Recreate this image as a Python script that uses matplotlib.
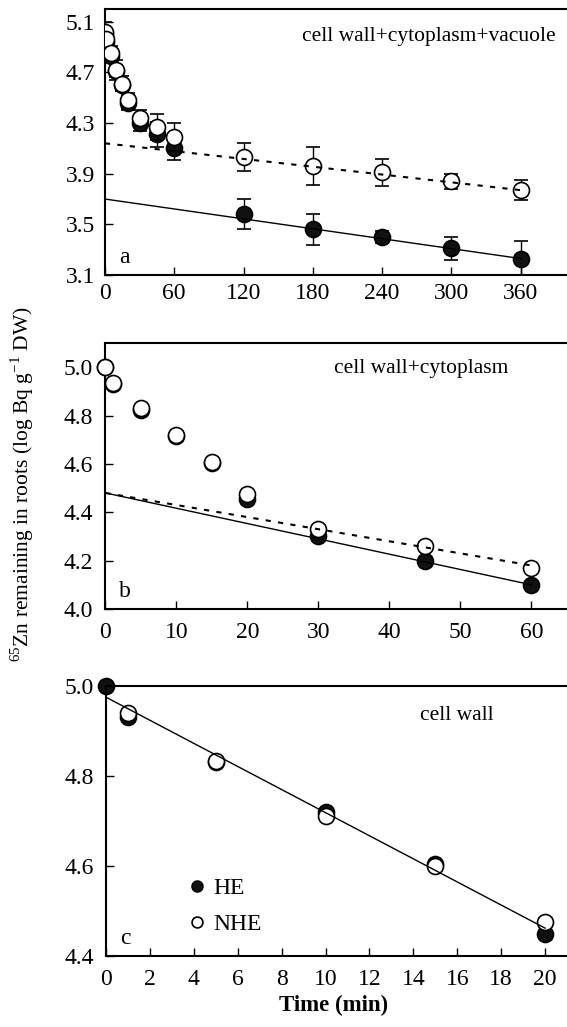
import matplotlib.pyplot as plt
import numpy as np

plt.rcParams['font.family'] = ['Liberation Serif', 'DejaVu Serif']
plt.rcParams['mathtext.fontset'] = 'custom'
plt.rcParams['mathtext.rm'] = 'Liberation Serif'

# Data
# panel a: cell wall + cytoplasm + vacuole
t_a = [0, 1, 5, 10, 15, 20, 30, 45, 60, 120, 180, 240, 300, 360]
he_a = [5.00, 4.94, 4.83, 4.71, 4.60, 4.46, 4.30, 4.21, 4.10, 3.58, 3.46, 3.40, 3.31, 3.23]
nhe_a = [5.02, 4.96, 4.85, 4.72, 4.61, 4.48, 4.34, 4.27, 4.19, 4.03, 3.96, 3.91, 3.84, 3.77]
he_a_err = [0.05, 0.05, 0.05, 0.05, 0.05, 0.06, 0.06, 0.10, 0.09, 0.12, 0.12, 0.05, 0.09, 0.14]
nhe_a_err = [0.08, 0.05, 0.06, 0.08, 0.06, 0.06, 0.06, 0.10, 0.11, 0.11, 0.15, 0.11, 0.06, 0.08]
fit_a_t = [0, 360]
fit_a_he = [3.70, 3.23]
fit_a_nhe = [4.14, 3.77]

# panel b: cell wall + cytoplasm
t_b = [0, 1, 5, 10, 15, 20, 30, 45, 60]
he_b = [5.00, 4.93, 4.825, 4.715, 4.605, 4.455, 4.30, 4.20, 4.10]
nhe_b = [5.00, 4.935, 4.83, 4.72, 4.61, 4.475, 4.33, 4.26, 4.17]
fit_b_t = [0, 60]
fit_b_he = [4.48, 4.10]
fit_b_nhe = [4.48, 4.18]

# panel c: cell wall
t_c_he = [0, 1, 5, 10, 15, 20]
he_c = [5.00, 4.93, 4.83, 4.72, 4.605, 4.45]
t_c_nhe = [1, 5, 10, 15, 20]
nhe_c = [4.94, 4.834, 4.712, 4.60, 4.476]
fit_c_t = [0, 20]
fit_c = [4.975, 4.462]

fig = plt.figure(figsize=(5.67, 10.27), dpi=100)
ax_a = fig.add_axes([0.185, 0.7322, 0.815, 0.259])
ax_b = fig.add_axes([0.186, 0.407, 0.814, 0.259])
ax_c = fig.add_axes([0.187, 0.0691, 0.813, 0.263])

ms = 11.5
fs = 17

# Chart a
ax_a.errorbar(t_a, he_a, yerr=he_a_err, fmt='o', color='k', mfc='#111111', mec='k',
              ms=ms, mew=1.2, capsize=5, elinewidth=1, capthick=1, zorder=2)
ax_a.errorbar(t_a, nhe_a, yerr=nhe_a_err, fmt='o', color='k', mfc='white', mec='k',
              ms=ms, mew=1.2, capsize=5, elinewidth=1, capthick=1, zorder=3)
ax_a.plot(fit_a_t, fit_a_he, color='k', lw=1, zorder=4)
ax_a.plot(fit_a_t, fit_a_nhe, color='k', lw=1.5, ls=(0, (2.5, 3.5)), zorder=4)
ax_a.set_xlim(0, 400)
ax_a.set_ylim(3.1, 5.2)
ax_a.set_xticks([0, 60, 120, 180, 240, 300, 360])
ax_a.set_yticks([3.1, 3.5, 3.9, 4.3, 4.7, 5.1])
ax_a.text(0.975, 0.898, 'cell wall+cytoplasm+vacuole', transform=ax_a.transAxes,
          ha='right', va='center', fontsize=15.5)
ax_a.text(0.03, 0.045, 'a', transform=ax_a.transAxes, fontsize=fs)

# Chart b
ax_b.plot(t_b, he_b, 'o', mfc='#111111', mec='k', ms=ms, mew=1.2, zorder=2, clip_on=False)
ax_b.plot(t_b, nhe_b, 'o', mfc='white', mec='k', ms=ms, mew=1.2, zorder=3, clip_on=False)
ax_b.plot(fit_b_t, fit_b_he, color='k', lw=1, zorder=4)
ax_b.plot(fit_b_t, fit_b_nhe, color='k', lw=1.5, ls=(0, (2.5, 3.5)), zorder=4)
ax_b.set_xlim(0, 65)
ax_b.set_ylim(4.0, 5.1)
ax_b.set_xticks([0, 10, 20, 30, 40, 50, 60])
ax_b.set_yticks([4.0, 4.2, 4.4, 4.6, 4.8, 5.0])
ax_b.text(0.872, 0.906, 'cell wall+cytoplasm', transform=ax_b.transAxes,
          ha='right', va='center', fontsize=15.5)
ax_b.text(0.03, 0.045, 'b', transform=ax_b.transAxes, fontsize=fs)

# Chart c
ax_c.plot(t_c_nhe, nhe_c, 'o', mfc='white', mec='k', ms=ms, mew=1.2, zorder=3,
          clip_on=False, label='NHE')
ax_c.plot(t_c_he, he_c, 'o', mfc='#111111', mec='k', ms=ms, mew=1.2, zorder=2,
          clip_on=False, label='HE')
ax_c.plot(fit_c_t, fit_c, color='k', lw=1, zorder=4)
ax_c.set_xlim(0, 21)
ax_c.set_ylim(4.4, 5.0)
ax_c.set_xticks(range(0, 21, 2))
ax_c.set_yticks([4.4, 4.6, 4.8, 5.0])
ax_c.text(0.84, 0.889, 'cell wall', transform=ax_c.transAxes,
          ha='right', va='center', fontsize=15.5)
ax_c.text(0.03, 0.045, 'c', transform=ax_c.transAxes, fontsize=fs)
h, l = ax_c.get_legend_handles_labels()
ax_c.legend(h[::-1], l[::-1], loc='lower left', bbox_to_anchor=(0.12, 0.0),
            frameon=False, markerscale=0.68, fontsize=fs, handletextpad=0.1,
            handlelength=1.2, labelspacing=0.6)

for ax, xpad, ypad in [(ax_a, 6, 7), (ax_b, 9, 9), (ax_c, 9, 9)]:
    ax.spines['right'].set_visible(False)
    for s in ['left', 'bottom', 'top']:
        ax.spines[s].set_linewidth(1.5)
    ax.tick_params(direction='in', length=6, width=1, labelsize=fs)
    ax.tick_params(axis='x', pad=xpad)
    ax.tick_params(axis='y', pad=ypad)

fig.text(0.039, 0.529, r'$^{65}$Zn remaining in roots (log Bq g$^{-1}$ DW)',
         rotation=90, ha='center', va='center', fontsize=15.5)
fig.text(0.589, 0.021, 'Time (min)', ha='center', va='center',
         fontsize=16.5, fontweight='bold')

fig.savefig('out.png', dpi=100)
